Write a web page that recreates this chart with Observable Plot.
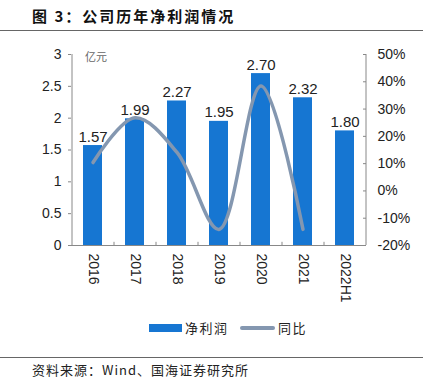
<!DOCTYPE html>
<html><head><meta charset="utf-8">
<script src="https://cdn.jsdelivr.net/npm/d3@7"></script>
<script src="https://cdn.jsdelivr.net/npm/@observablehq/plot@0.6"></script>
<style>
body{margin:0;background:#fff;}
#wrap{position:relative;width:433px;height:378px;overflow:hidden;font-family:"Liberation Sans",Arial,sans-serif;color:#222;}
#title{position:absolute;left:32px;top:5px;font-family:"Noto Sans CJK SC",sans-serif;font-weight:bold;font-size:15px;letter-spacing:2px;line-height:22px;color:#111;white-space:nowrap;}
.hr{position:absolute;left:0;width:423px;height:1px;background:#666;}
#chart{position:absolute;left:0;top:30px;width:433px;height:285px;}
#chart svg{position:absolute;left:0;top:0;background:transparent;}
#unit{position:absolute;left:85px;top:48px;font-family:"Noto Sans CJK SC",sans-serif;font-size:11px;color:#666;}
#legend{position:absolute;top:319px;left:0;width:433px;height:18px;font-family:"Noto Sans CJK SC",sans-serif;font-size:13px;letter-spacing:1.5px;}
#legend .sw1{position:absolute;left:149px;top:5px;width:33px;height:8px;}
#legend .sw2{position:absolute;left:240px;top:7px;width:35px;height:4px;border-radius:2px;}
#legend .t{position:absolute;top:0;line-height:18px;white-space:nowrap;}
#source{position:absolute;left:32px;top:361px;font-family:"Noto Sans CJK SC",sans-serif;font-size:13px;letter-spacing:1px;line-height:18px;white-space:nowrap;color:#222;}
</style></head><body>
<div id="wrap">
<div id="title">图 3：公司历年净利润情况</div>
<div class="hr" style="top:30px"></div>
<div id="chart"></div>
<div id="unit">亿元</div>
<div id="legend"></div>
<div class="hr" style="top:357px"></div>
<div id="source">资料来源：Wind、国海证券研究所</div>
</div>
<script>
const years = ["2016","2017","2018","2019","2020","2021","2022H1"];
const profit = [1.57, 1.99, 2.27, 1.95, 2.70, 2.32, 1.80];
const yoy = [0.104, 0.268, 0.141, -0.141, 0.385, -0.141, null];
const leftTicks = [0, 0.5, 1, 1.5, 2, 2.5, 3];
const rightTicks = [-0.2, -0.1, 0, 0.1, 0.2, 0.3, 0.4, 0.5];
const seriesNames = ["净利润", "同比"];
const barColor = "#1676D2", lineColor = "#8497B0", axisColor = "#888";

const W = 433, H = 285, mL = 71, mR = 68, mT = 24, mB = 70;
const step = (W - mL - mR) / years.length;
const xOpts = {type: "band", domain: years, paddingInner: 0.55, paddingOuter: 0.275, axis: null, label: null};
const barData = years.map((y, i) => ({year: y, v: profit[i]}));
const lineData = years.map((y, i) => ({year: y, v: yoy[i]})).filter(d => d.v != null);
const font = {fontFamily: "Liberation Sans, Arial, sans-serif", fontSize: "14px", color: "#222", background: "transparent", overflow: "visible"};

const p1 = Plot.plot({
  width: W, height: H, marginLeft: mL, marginRight: mR, marginTop: mT, marginBottom: mB,
  style: font,
  x: xOpts,
  y: {domain: [0, 3], axis: null, label: null},
  marks: [
    Plot.barY(barData, {x: "year", y: "v", fill: barColor}),
    Plot.ruleY([0], {stroke: axisColor}),
    Plot.ruleX([years[0]], {dx: -step / 2, y1: 0, y2: 3, stroke: axisColor}),
    Plot.ruleX(years.slice(1), {dx: -step / 2, y1: 0, y2: 0.05, stroke: axisColor}),
    Plot.axisY(leftTicks, {anchor: "left", label: null, tickSize: 3, tickPadding: 7, stroke: axisColor, fill: "#222", fontSize: 14, tickFormat: d => String(d)}),
    Plot.axisX({anchor: "bottom", label: null, tickSize: 0, tickPadding: 8, tickRotate: 90, fontSize: 14, fill: "#222"})
  ]
});
const p2 = Plot.plot({
  width: W, height: H, marginLeft: mL, marginRight: mR, marginTop: mT, marginBottom: mB,
  style: font,
  x: xOpts,
  y: {domain: [-0.2, 0.5], axis: null, label: null},
  marks: [
    Plot.lineY(lineData, {x: "year", y: "v", curve: "catmull-rom", stroke: lineColor, strokeWidth: 3.5}),
    Plot.ruleX([years[years.length - 1]], {dx: step / 2, y1: -0.2, y2: 0.5, stroke: axisColor}),
    Plot.axisY(rightTicks, {anchor: "right", label: null, tickSize: -3, tickPadding: 15, stroke: axisColor, fill: "#222", fontSize: 14, tickFormat: d => Math.round(d * 100) + "%"})
  ]
});
const p3 = Plot.plot({
  width: W, height: H, marginLeft: mL, marginRight: mR, marginTop: mT, marginBottom: mB,
  style: font,
  x: xOpts,
  y: {domain: [0, 3], axis: null, label: null},
  marks: [
    Plot.text(barData, {x: "year", y: "v", text: d => d.v.toFixed(2), lineAnchor: "bottom", dy: -4, fontSize: 15, fill: "#222"})
  ]
});
const chart = document.getElementById("chart");
chart.append(p1, p2, p3);

const lg = document.getElementById("legend");
lg.innerHTML = `<span class="sw1" style="background:${barColor}"></span><span class="t" style="left:185px">${seriesNames[0]}</span>` +
  `<span class="sw2" style="background:${lineColor}"></span><span class="t" style="left:278px">${seriesNames[1]}</span>`;
</script>
</body></html>
